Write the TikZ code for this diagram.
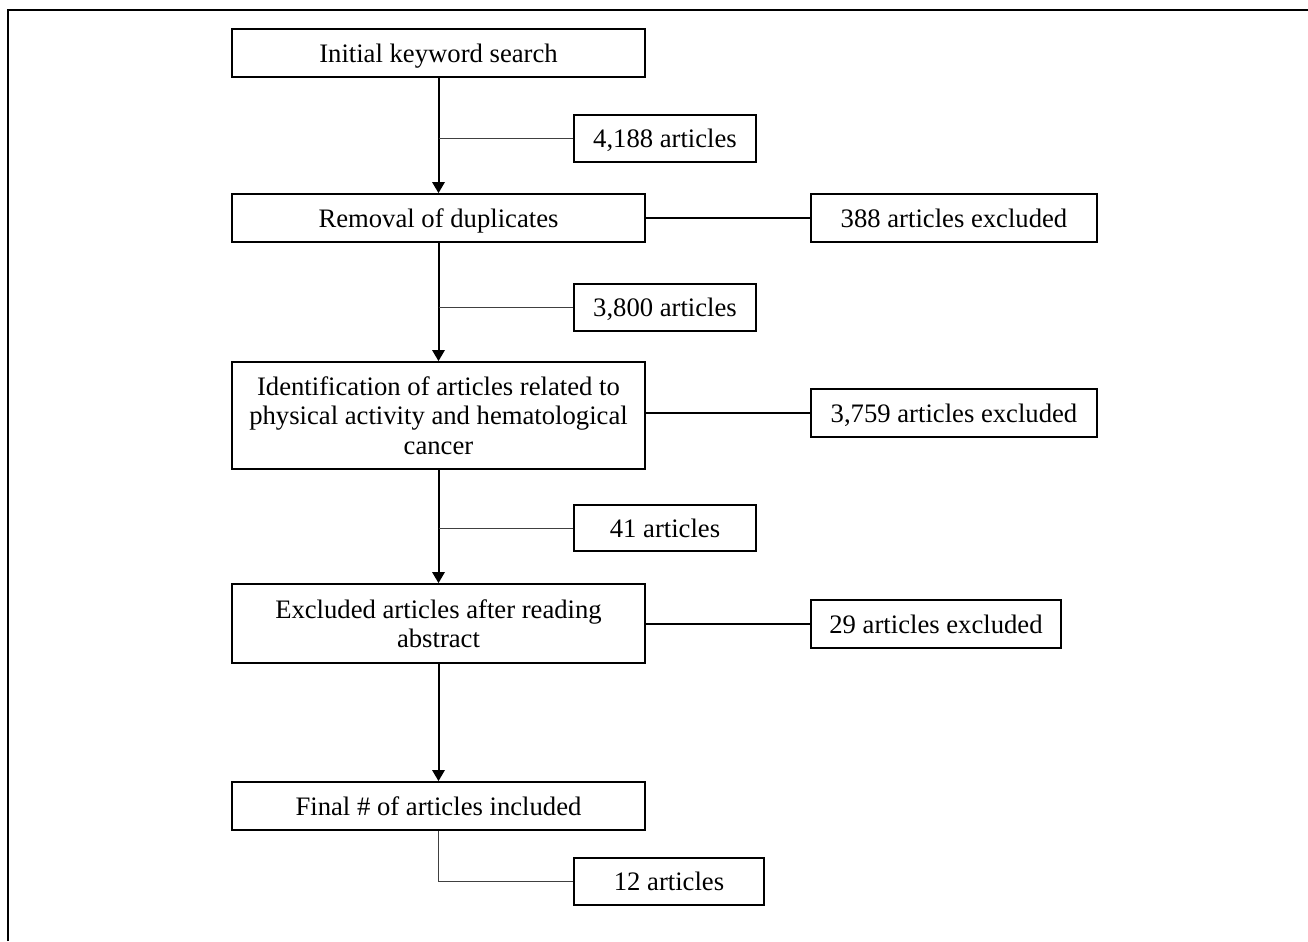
\documentclass[tikz,border=0pt]{standalone}
\usepackage{fontspec}
\setmainfont{Liberation Serif}
\usepackage{tikz}
\usetikzlibrary{arrows.meta, positioning, calc}

\begin{document}
\begin{tikzpicture}[
        x=0.45pt, y=-0.45pt,
        font=\fontsize{12}{13.1}\selectfont,
        box/.style={draw, line width=0.8pt, align=center, inner sep=0pt, text depth=0pt, minimum width=185.85pt, minimum height=21.6pt},
        numbox/.style={draw, line width=0.8pt, align=center, inner sep=0pt, text depth=0pt, minimum width=81.9pt, minimum height=21.15pt},
        exbox/.style={draw, line width=0.8pt, align=center, inner sep=0pt, text depth=0pt, minimum height=21.6pt},
        arrow/.style={-{Triangle[length=5pt, width=5.6pt]}, line width=0.9pt},
        branch/.style={line width=0.45pt, black!75}
    ]
    \useasboundingbox (0,0) rectangle (1308,941);
    \draw[line width=0.9pt] (8,941) -- (8,10) -- (1308,10);

    \node[box] (init) at (438.5,53) {Initial keyword search};
    \node[numbox] (n4188) at (665,138.5) {4,188 articles};
    \node[box] (dupl) at (438.5,218) {Removal of duplicates};
    \node[exbox, minimum width=128.7pt] (ex388) at (954,218) {388 articles excluded};
    \node[numbox] (n3800) at (665,307.5) {3,800 articles};
    \node[box, minimum height=48.15pt] (ident) at (438.5,415.5) {Identification of articles related to\\physical activity and hematological\\cancer};
    \node[exbox, minimum width=128.7pt] (ex3759) at (954,413) {3,759 articles excluded};
    \node[numbox, minimum height=20.7pt] (n41) at (665,528) {41 articles};
    \node[box, minimum height=35.55pt] (abstr) at (438.5,623.5) {Excluded articles after reading\\abstract};
    \node[exbox, minimum width=112.5pt] (ex29) at (936,624) {29 articles excluded};
    \node[box] (final) at (438.5,806) {Final \# of articles included};
    \node[numbox, minimum width=85.5pt] (n12) at (669,881.5) {12 articles};

    % main flow
    \draw[arrow] (init) -- (dupl);
    \draw[arrow] (dupl) -- (ident);
    \draw[arrow] (ident) -- (abstr);
    \draw[arrow] (abstr) -- (final);

    % counts passed on
    \draw[branch] (n4188.west -| init.south) -- (n4188.west);
    \draw[branch] (n3800.west -| dupl.south) -- (n3800.west);
    \draw[branch] (n41.west -| ident.south) -- (n41.west);
    \draw[branch] (final.south) |- (n12.west);

    % exclusions
    \draw[line width=0.7pt] (dupl.east) -- (ex388.west);
    \draw[line width=0.7pt] (ex3759.west -| ident.east) -- (ex3759.west);
    \draw[line width=0.7pt] (ex29.west -| abstr.east) -- (ex29.west);
\end{tikzpicture}
\end{document}
